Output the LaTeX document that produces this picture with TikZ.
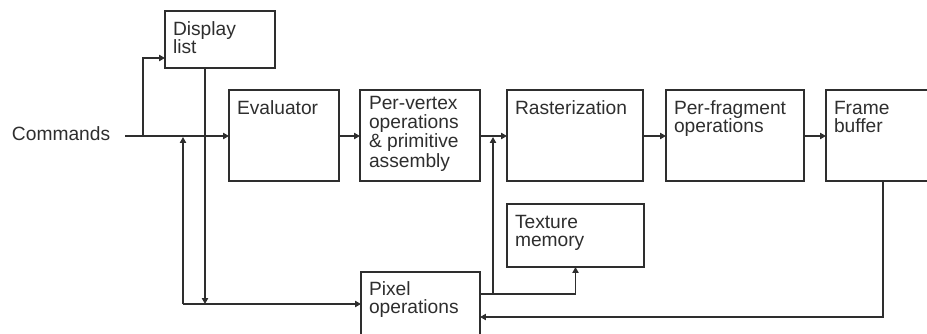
\documentclass[tikz,border=0pt]{standalone}
\usepackage{fontspec}
\setmainfont{Liberation Sans}
\usetikzlibrary{calc,arrows.meta}
\definecolor{ink}{HTML}{2E2E2E}
\newcommand\mlines[1]{\vtop{\halign{##\hfil\cr#1\crcr}}}
\tikzset{
  px/.style={x=0.75pt,y=-0.75pt},
  box/.style 2 args={draw=ink, line width=1.1pt, minimum width=#1*0.75pt, minimum height=#2*0.75pt, inner sep=0pt, outer sep=0pt, anchor=north west},
  lbl/.style={inner sep=0pt, outer sep=0pt, anchor=base west, text=ink, font=\fontsize{14.4pt}{14pt}\selectfont},
  conn/.style={draw=ink, line width=1.1pt},
  arr/.style={conn, -{Triangle[length=4.4pt,width=4.6pt]}}
}
\begin{document}
\begin{tikzpicture}[px]
\useasboundingbox (0,0) rectangle (927,333);
\clip (0,0) rectangle (927,333);
% boxes
\node[box={110}{57}] (dl) at (165,11) {};
\node[box={110}{91}] (ev) at (229,90) {};
\node[box={120}{91}] (pv) at (360,90) {};
\node[box={136}{91}] (ra) at (507,90) {};
\node[box={138}{91}] (pf) at (666,90) {};
\node[box={120}{91}] (fb) at (826,90) {};
\node[box={137}{63}] (tm) at (507,204) {};
\node[box={119}{80}] (po) at (361,272) {};
% labels
\node[lbl] (dlt) at ($(dl.north west)+(8,24)$) {\mlines{Display\cr list}};
\node[lbl] (evt) at ($(ev.north west)+(8,24)$) {Evaluator};
\node[lbl, font=\fontsize{14.4pt}{14.6pt}\selectfont] (pvt) at ($(pv.north west)+(9,19)$) {\mlines{Per-vertex\cr operations\cr \&~primitive\cr assembly}};
\node[lbl] (rat) at ($(ra.north west)+(8,24)$) {Rasterization};
\node[lbl] (pft) at ($(pf.north west)+(8,24)$) {\mlines{Per-fragment\cr operations}};
\node[lbl] (fbt) at ($(fb.north west)+(8,24)$) {\mlines{Frame\cr buffer}};
\node[lbl] (tmt) at ($(tm.north west)+(8,24)$) {\mlines{Texture\cr memory}};
\node[lbl] (pot) at ($(po.north west)+(8,23)$) {\mlines{Pixel\cr operations}};
\node[lbl] (cmd) at (12,140) {Commands};
% junction coordinates
\coordinate (c0) at (125,136);
\coordinate (c1) at (143,136);
\coordinate (dlin) at (165,58);
\coordinate (dlout) at (205,68);
\coordinate (j1) at (205,304);
\coordinate (j2) at (183,304);
\coordinate (j2up) at (183,137);
\coordinate (poin) at (361,304);
\coordinate (poout) at (480,294);
\coordinate (j3) at (493,294);
\coordinate (j3up) at (493,137);
\coordinate (fbout) at (883,181);
\coordinate (poin2) at (480,317);
% connectors
\draw[arr] (c0) -- (ev.west |- c0);
\draw[arr] (c1) |- (dlin);
\draw[arr] (dlout) -- (j1);
\draw[arr] (j2) -- (poin);
\draw[arr] (j2) -- (j2up);
\draw[arr] (pv.east |- c0) -- (ra.west |- c0);
\draw[arr] (ev.east |- c0) -- (pv.west |- c0);
\draw[arr] (ra.east |- c0) -- (pf.west |- c0);
\draw[arr] (pf.east |- c0) -- (fb.west |- c0);
\draw[arr] (poout) -| (tm.south);
\draw[arr] (j3) -- (j3up);
\draw[arr] (fbout) |- (poin2);
\end{tikzpicture}
\end{document}
